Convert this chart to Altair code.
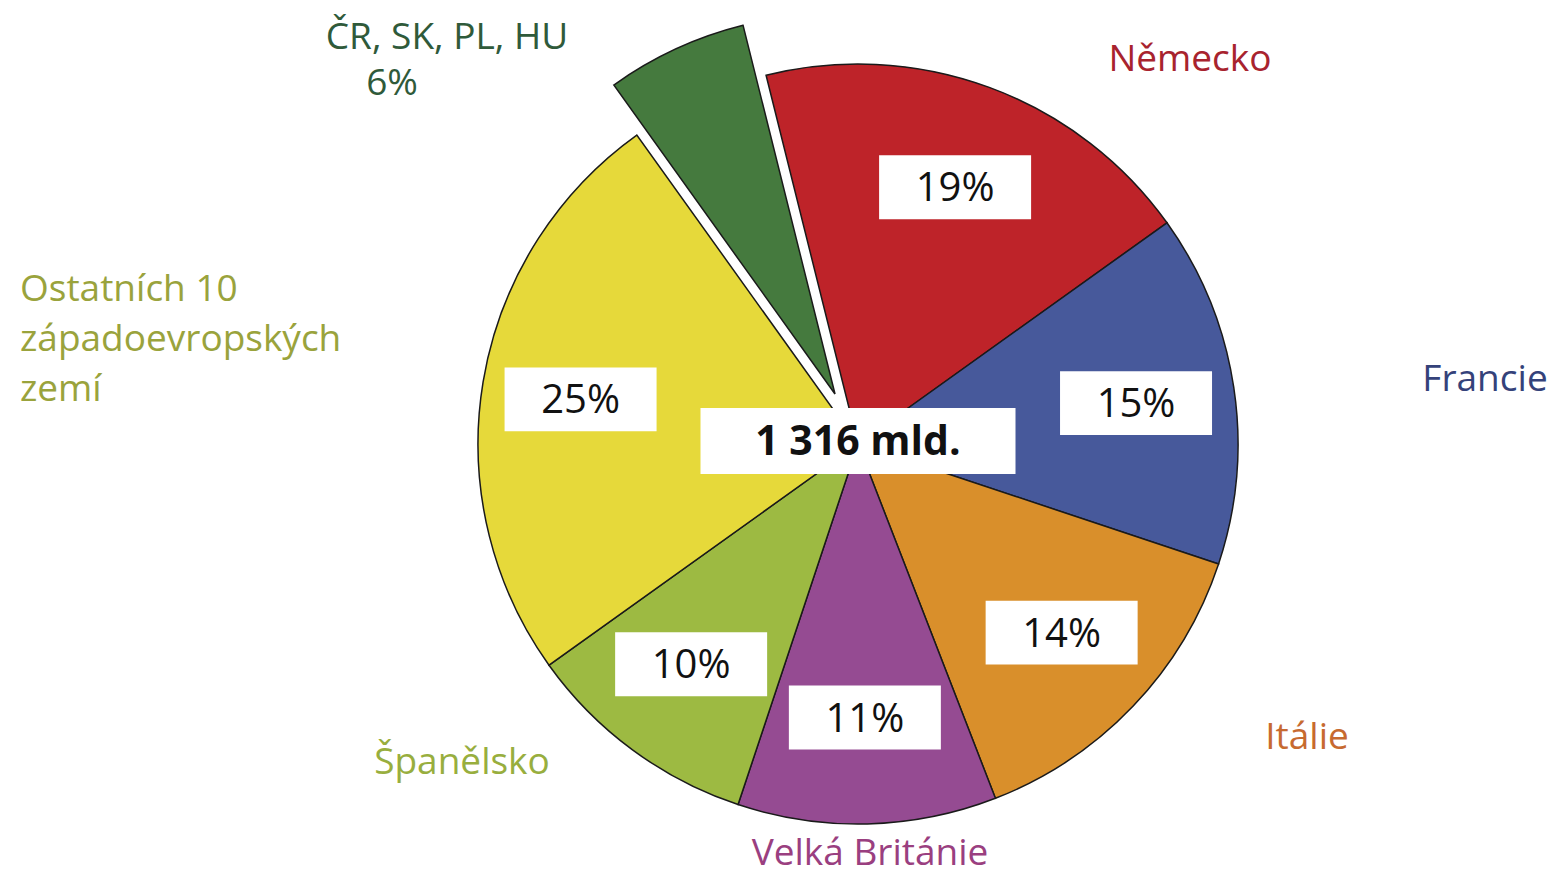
import math
import altair as alt
import pandas as pd

# ---- data ----
names = ["Německo", "Francie", "Itálie", "Velká Británie", "Španělsko",
         "Ostatních 10\nzápadoevropských\nzemí", "ČR, SK, PL, HU"]
shares = [19, 15, 14, 11, 10, 25, 6]
slice_colors = ["#BE2329", "#47599B", "#D98F2B", "#954B92", "#9DBA42", "#E6D93A", "#457A3E"]
label_colors = ["#A8232E", "#34427A", "#C76A30", "#9A3F80", "#98AE3E", "#9AA33C", "#2F5A3A"]
total_label = "1 316 mld."

# ---- layout / style ----
W, H = 1552, 869
cx, cy = 850, 436
R = 380
a0 = math.radians(-14)
KX, KY = 0.74, 0.72
FONT = "Open Sans"

df = pd.DataFrame({"name": names, "share": shares, "order": list(range(len(names)))})

xs = alt.Scale(domain=[-1, 1], range=[cx - R, cx + R])
ys = alt.Scale(domain=[-1, 1], range=[cy + R, cy - R])
ts = alt.Scale(domain=[0, 100], range=[a0, a0 + 2 * math.pi])
cs = alt.Scale(domain=names, range=slice_colors)

base = (
    alt.Chart(df)
    .transform_window(cum="sum(share)", sort=[alt.SortField("order")], frame=[None, 0])
    .transform_calculate(
        start="datum.cum - datum.share",
        mid=f"{a0} + 2*PI*(datum.cum - datum.share/2)/100",
        pct="datum.share + '%'",
    )
    .transform_calculate(bx=f"{KX}*sin(datum.mid)", by=f"{KY}*cos(datum.mid)")
)

cx_enc = alt.XDatum(0, type="quantitative", scale=xs, axis=None)
cy_enc = alt.YDatum(0, type="quantitative", scale=ys, axis=None)

arc_enc = dict(
    x=cx_enc, y=cy_enc,
    theta=alt.Theta("start:Q", scale=ts),
    theta2="cum:Q",
    color=alt.Color("name:N", scale=cs, legend=None),
)

arcs = base.transform_filter("datum.order < 6").mark_arc(
    radius=R, stroke="#1a1a1a", strokeWidth=1.5
).encode(**arc_enc)

exploded = base.transform_filter("datum.order == 6").mark_arc(
    radius=R, stroke="#1a1a1a", strokeWidth=1.5, xOffset=-23, yOffset=-50
).encode(**arc_enc)

box_path = "M-1,-0.42L1,-0.42L1,0.42L-1,0.42Z"
boxes = base.transform_filter("datum.order < 6").mark_point(
    shape=box_path, size=152 ** 2, filled=True, fill="white", opacity=1, strokeWidth=0
).encode(
    x=alt.X("bx:Q", scale=xs, axis=None),
    y=alt.Y("by:Q", scale=ys, axis=None),
)

pct_text = base.transform_filter("datum.order < 6").mark_text(
    font=FONT, fontSize=40, color="#111111", align="center", baseline="middle", dy=2
).encode(
    x=alt.X("bx:Q", scale=xs, axis=None),
    y=alt.Y("by:Q", scale=ys, axis=None),
    text="pct:N",
)

center_df = pd.DataFrame({"t": [total_label]})
center_box = alt.Chart(center_df).mark_point(
    shape="M-1,-0.21L1,-0.21L1,0.21L-1,0.21Z", size=315 ** 2, filled=True,
    fill="white", opacity=1, strokeWidth=0, yOffset=-3
).encode(x=cx_enc, y=cy_enc)
center_text = alt.Chart(center_df).mark_text(
    font=FONT, fontSize=41, fontWeight="bold", color="#111111",
    align="center", baseline="middle", yOffset=-1
).encode(x=cx_enc, y=cy_enc, text="t:N")

# category label placements (plot-area pixels)
label_pos = [
    (1182, 52, "center", "middle"),
    (1477, 372, "center", "middle"),
    (1299, 730, "center", "middle"),
    (862, 846, "center", "middle"),
    (454, 755, "center", "middle"),
    (12, 264, "left", "top"),
    (439, 30, "center", "middle"),
]

labels = []
for i, (px, py, al, bl) in enumerate(label_pos):
    labels.append(
        alt.Chart(df).transform_filter(f"datum.order == {i}").mark_text(
            font=FONT, fontSize=37, color=label_colors[i], align=al, baseline=bl,
            lineBreak="\n", lineHeight=50
        ).encode(x=alt.value(px), y=alt.value(py), text="name:N")
    )

cr_pct = base.transform_filter("datum.order == 6").mark_text(
    font=FONT, fontSize=37, color=label_colors[6], align="center", baseline="middle"
).encode(x=alt.value(384), y=alt.value(76), text="pct:N")

chart = alt.layer(
    arcs, exploded, boxes, pct_text, center_box, center_text, *labels, cr_pct
).properties(
    width=W, height=H, autosize=alt.AutoSizeParams(type="none"), padding=0
).configure_view(stroke=None)

chart.save("out.html", embed_options={"renderer": "svg", "actions": False})
